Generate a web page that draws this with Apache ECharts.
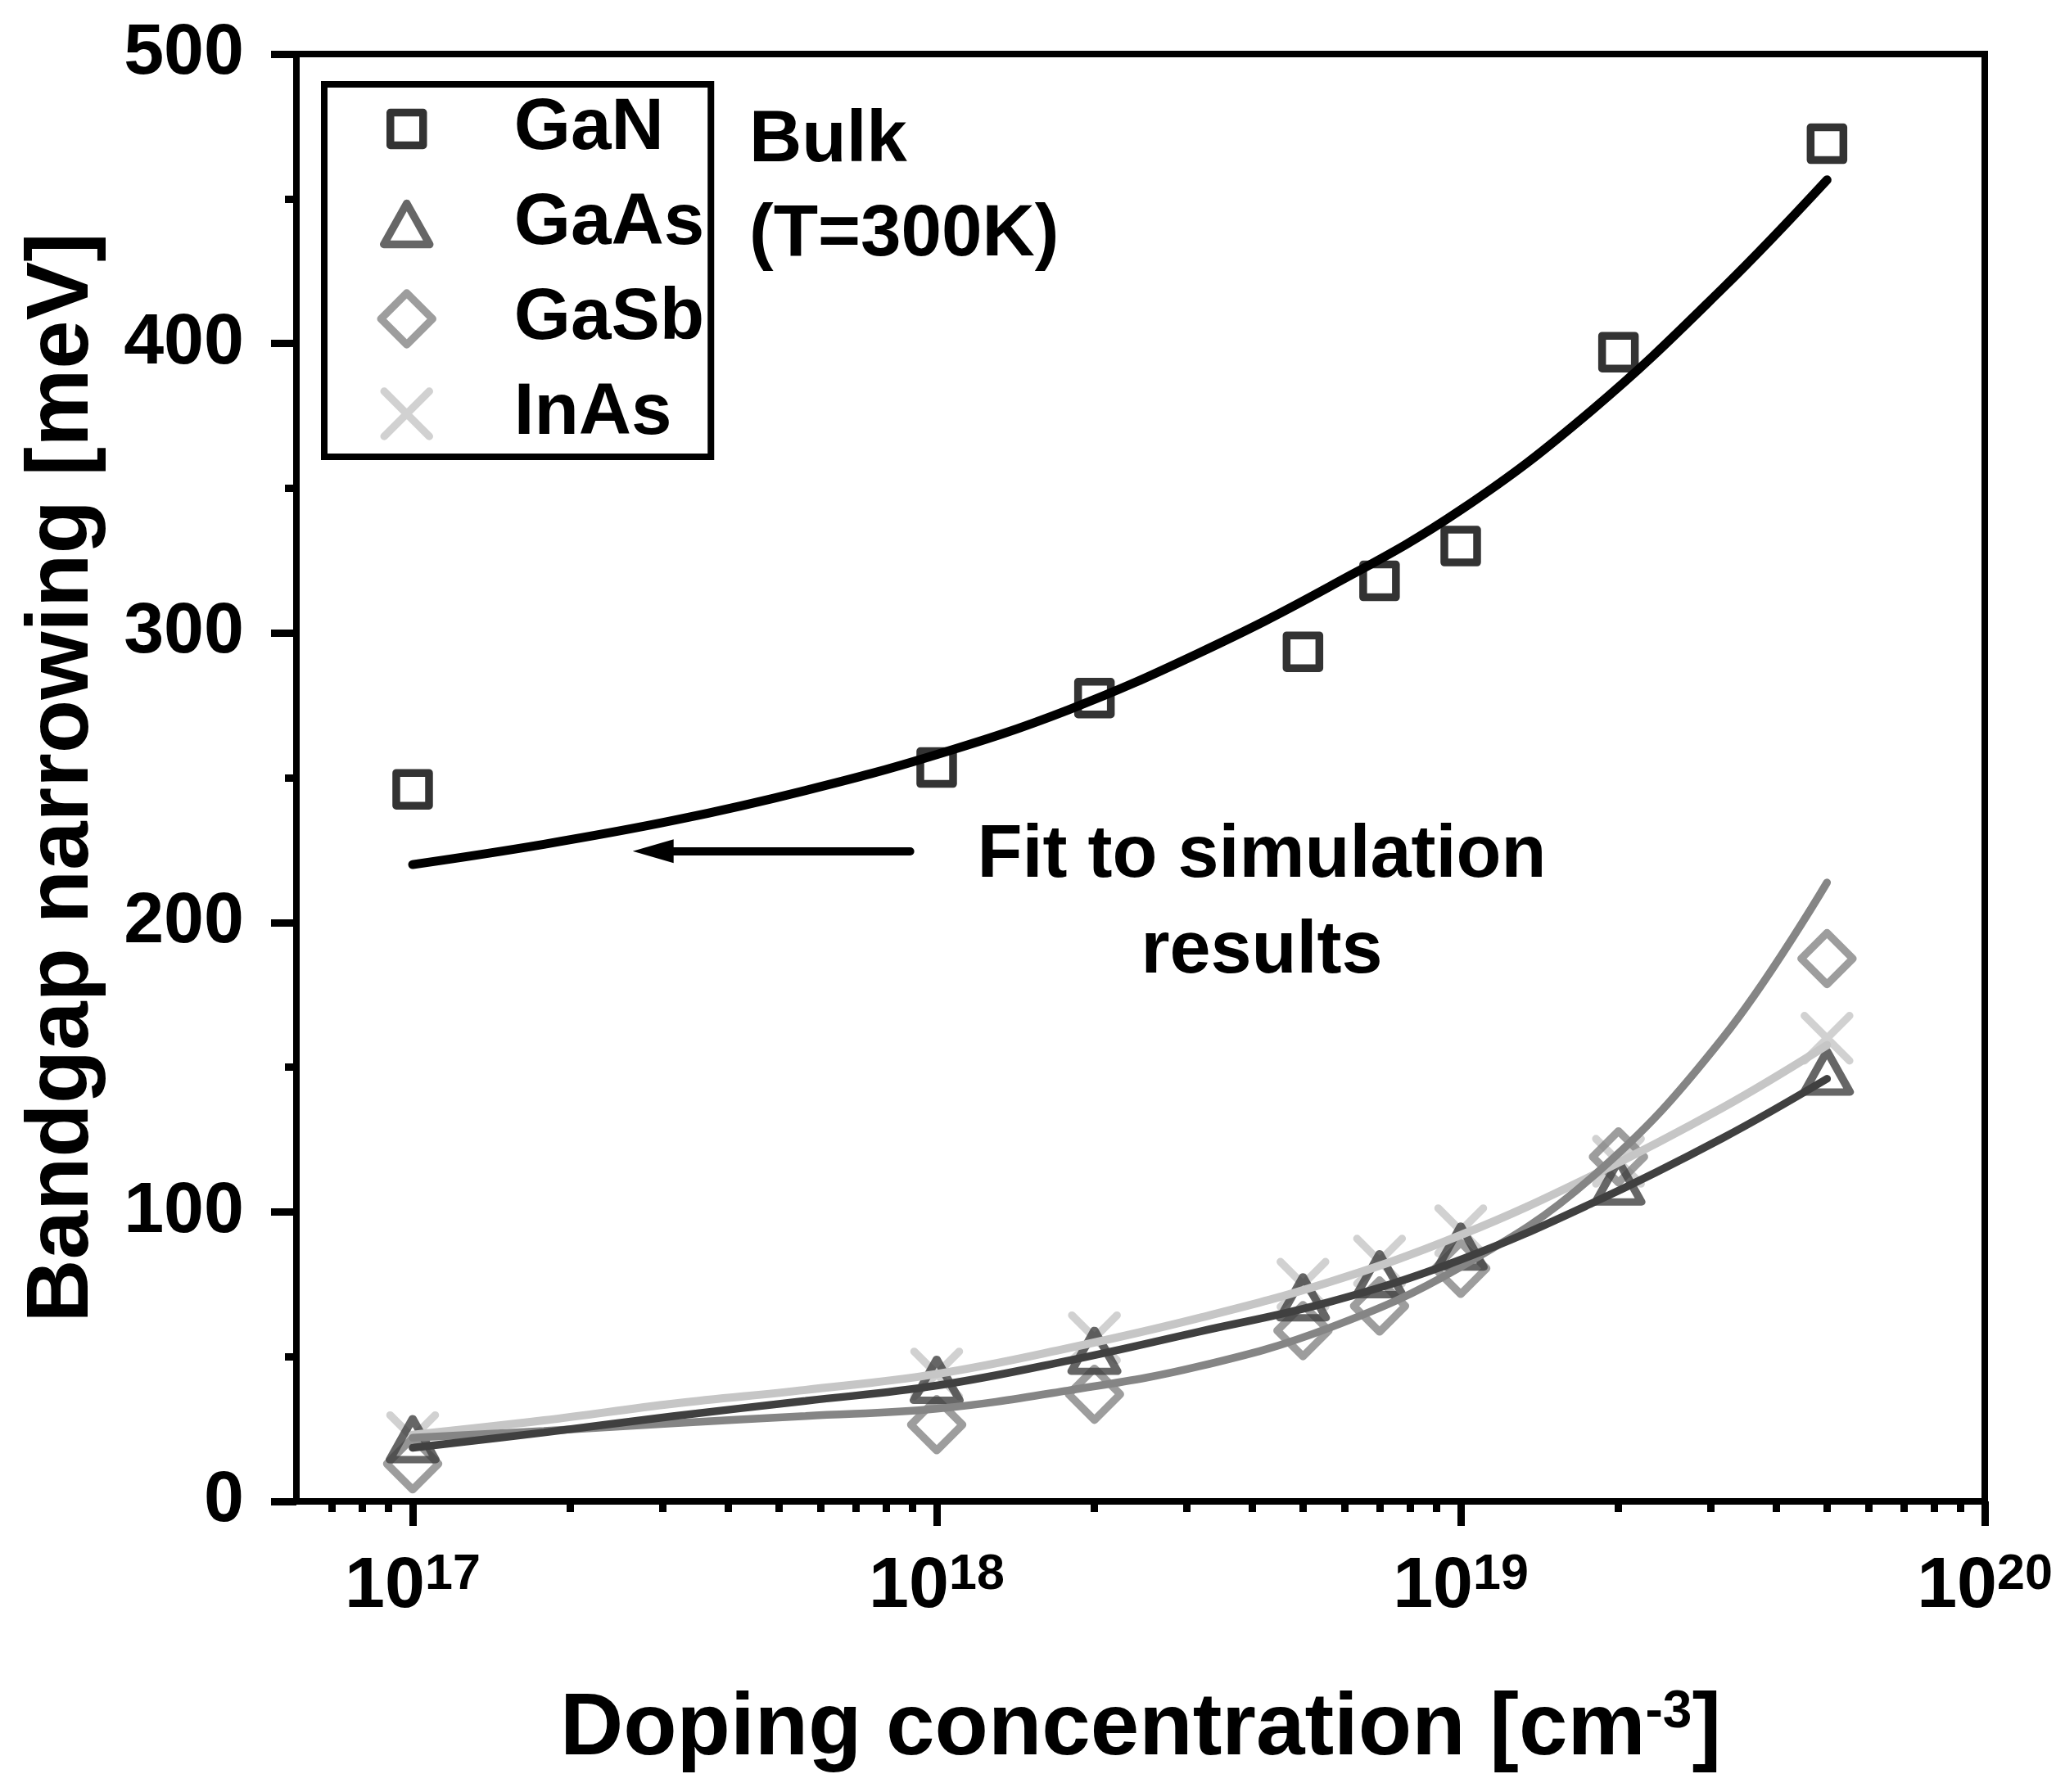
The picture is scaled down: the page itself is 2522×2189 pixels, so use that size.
<!DOCTYPE html>
<html>
<head>
  <meta charset="utf-8">
  <title>Bandgap narrowing</title>
  <script src="https://cdn.jsdelivr.net/npm/echarts@6.0.0/dist/echarts.min.js"></script>
  <style>
    html, body { margin: 0; padding: 0; background: #fff; }
    #main { width: 2522px; height: 2189px; }
  </style>
</head>
<body>
<div id="main"></div>
<script>
// simulated points (doping in cm^-3, narrowing in meV)
var doping = [1e17, 1e18, 2e18, 5e18, 7e18, 1e19, 2e19, 5e19];
var ganSim  = [246, 253.5, 277.5, 293.5, 318, 330, 397, 469];
var gaasSim = [21.5, 42, 52, 70.5, 78.5, 88, 110.5, 148.5];
var gasbSim = [13, 26.5, 37, 59, 67.5, 80.5, 119, 187.5];
var inasSim = [22, 44, 56.5, 75, 83, 93.5, 117.5, 160];

// fit curves, every quarter decade
var fitDoping = [1e17, 1.78e17, 3.16e17, 5.62e17, 1e18, 1.78e18, 3.16e18, 5.62e18, 1e19, 1.78e19, 3.16e19, 5e19];
var ganFit  = [220, 227, 235.3, 245.6, 258, 273.4, 293, 316, 342.5, 377, 419, 456.5];
var gaasFit = [18.5, 23.8, 29.5, 34.7, 40, 48.6, 58.6, 68.9, 83.5, 103, 125.5, 146];
var gasbFit = [22, 24.3, 27, 29.5, 32, 38.3, 46.6, 60, 81, 112, 160, 213.8];
var inasFit = [23, 28, 33.8, 38.5, 44, 52.9, 63.3, 75.8, 92, 112.5, 136, 157.6];

var xMajorTicks = [1e17, 1e18, 1e19, 1e20];
var xMinorTicks = [6e16, 7e16, 8e16, 9e16,
  2e17, 3e17, 4e17, 5e17, 6e17, 7e17, 8e17, 9e17,
  2e18, 3e18, 4e18, 5e18, 6e18, 7e18, 8e18, 9e18,
  2e19, 3e19, 4e19, 5e19, 6e19, 7e19, 8e19, 9e19];

// arrow "Fit to simulation results"
var arrowFrom = 2.877e17, arrowTo = 8.9e17, arrowLevel = 224.6;

var FONT = '"Liberation Sans", Arial, sans-serif';

function zip(xs, ys) {
  var out = [];
  for (var i = 0; i < xs.length; i++) out.push([xs[i], ys[i]]);
  return out;
}

var crossPath = 'path://M0,0L10,10M10,0L0,10';

function fitSeries(name, ys, color, width) {
  return {
    name: name, type: 'line', data: zip(fitDoping, ys),
    smooth: 0.4, showSymbol: false, symbol: 'none',
    lineStyle: { color: color, width: width, cap: 'round' },
    itemStyle: { color: color },
    emphasis: { disabled: true }
  };
}

function simSeries(name, ys, symbol, size, color) {
  return {
    name: name, type: 'scatter', data: zip(doping, ys),
    symbol: symbol, symbolSize: size,
    itemStyle: { color: 'transparent', borderColor: color, borderWidth: 9.5, borderJoin: 'round', borderCap: 'round' },
    emphasis: { disabled: true }
  };
}

var ganLine = fitSeries('GaN fit', ganFit, '#000000', 11);
ganLine.markLine = {
  silent: true,
  symbol: ['triangle', 'none'],
  symbolSize: [29, 50],
  label: { show: false },
  lineStyle: { color: '#000', width: 10, type: 'solid', cap: 'round' },
  data: [[{ coord: [arrowFrom, arrowLevel] }, { coord: [arrowTo, arrowLevel] }]]
};

var chart = echarts.init(document.getElementById('main'));
chart.setOption({
  animation: false,
  backgroundColor: '#fff',
  grid: {
    left: 362, right: 98, top: 66, bottom: 355,
    show: true, borderColor: '#000', borderWidth: 8, backgroundColor: 'transparent',
    outerBoundsMode: 'none'
  },
  legend: {
    orient: 'vertical', left: 396, top: 103,
    padding: [10, 8, 8, 64],
    itemWidth: 64, itemHeight: 64, itemGap: 27,
    backgroundColor: '#fff', borderColor: '#000', borderWidth: 8, borderRadius: 0,
    itemStyle: { borderWidth: 9.5, borderCap: 'round', borderJoin: 'round' },
    textStyle: { fontFamily: FONT, fontWeight: 'bold', fontSize: 89, color: '#000', padding: [0, 0, 0, 94] },
    selectedMode: false,
    data: [
      { name: 'GaN',  icon: 'path://M-32,-32M32,32M-20,-20L20,-20L20,20L-20,20Z' },
      { name: 'GaAs', icon: 'path://M-32,-32M32,32M0,-25L28,25L-28,25Z' },
      { name: 'GaSb', icon: 'path://M-32,-32M32,32M0,-31.5L31.5,0L0,31.5L-31.5,0Z' },
      { name: 'InAs', icon: 'path://M-32,-32M32,32M-27.5,-27.5L27.5,27.5M27.5,-27.5L-27.5,27.5' }
    ]
  },
  xAxis: [{
    type: 'log', logBase: 10, min: 6e16, max: 1e20,
    name: 'Doping concentration [cm{sup|-3}]',
    nameLocation: 'middle', nameGap: 226,
    nameTextStyle: {
      fontFamily: FONT, fontWeight: 'bold', fontSize: 107, color: '#000',
      rich: { sup: { fontFamily: FONT, fontWeight: 'bold', fontSize: 64, color: '#000', verticalAlign: 'top', lineHeight: 36 } }
    },
    axisLine: { show: true, onZero: false, lineStyle: { color: '#000', width: 8 } },
    axisTick: { show: true, inside: false, length: 30, customValues: xMajorTicks, lineStyle: { color: '#000', width: 9 } },
    minorTick: { show: false },
    splitLine: { show: false },
    axisLabel: {
      show: true, margin: 60, customValues: xMajorTicks,
      formatter: function (v) { return '{b|10}{s|' + Math.round(Math.log10(v)) + '}'; },
      rich: {
        b: { fontFamily: FONT, fontWeight: 'bold', fontSize: 88, color: '#000', lineHeight: 90 },
        s: { fontFamily: FONT, fontWeight: 'bold', fontSize: 61, color: '#000', lineHeight: 28, verticalAlign: 'top' }
      }
    }
  }, {
    type: 'log', logBase: 10, min: 6e16, max: 1e20, position: 'bottom', offset: 0,
    axisLine: { show: false },
    axisTick: { show: true, inside: false, length: 13, customValues: xMinorTicks, lineStyle: { color: '#000', width: 9 } },
    axisLabel: { show: false },
    splitLine: { show: false }
  }],
  yAxis: {
    type: 'value', min: 0, max: 500, interval: 100,
    name: 'Bandgap narrowing [meV]',
    nameLocation: 'middle', nameGap: 231,
    nameTextStyle: { fontFamily: FONT, fontWeight: 'bold', fontSize: 107, color: '#000' },
    axisLine: { show: true, lineStyle: { color: '#000', width: 8 } },
    axisTick: { show: true, inside: false, length: 31, lineStyle: { color: '#000', width: 9 } },
    minorTick: { show: true, splitNumber: 2, length: 14, lineStyle: { color: '#000', width: 9 } },
    splitLine: { show: false },
    axisLabel: { fontFamily: FONT, fontWeight: 'bold', fontSize: 88, color: '#000', margin: 64 }
  },
  series: [
    fitSeries('InAs fit', inasFit, '#c6c6c6', 10),
    simSeries('InAs', inasSim, crossPath, 55, '#c6c6c6'),
    fitSeries('GaSb fit', gasbFit, '#858585', 9.5),
    simSeries('GaSb', gasbSim, 'diamond', 63, '#858585'),
    fitSeries('GaAs fit', gaasFit, '#404040', 9.5),
    simSeries('GaAs', gaasSim, 'triangle', [56, 50], '#404040'),
    ganLine,
    simSeries('GaN', ganSim, 'rect', 40, '#000000')
  ],
  graphic: [
    { type: 'text', left: 915, top: 128, style: { text: 'Bulk', font: 'bold 89px ' + FONT, fill: '#000' } },
    { type: 'text', left: 915, top: 243, style: { text: '(T=300K)', font: 'bold 89px ' + FONT, fill: '#000' } },
    { type: 'text', x: 1541, y: 1046, style: { text: 'Fit to simulation', font: 'bold 90px ' + FONT, fill: '#000', align: 'center', verticalAlign: 'middle' } },
    { type: 'text', x: 1541, y: 1163, style: { text: 'results', font: 'bold 90px ' + FONT, fill: '#000', align: 'center', verticalAlign: 'middle' } }
  ]
});
</script>
</body>
</html>
